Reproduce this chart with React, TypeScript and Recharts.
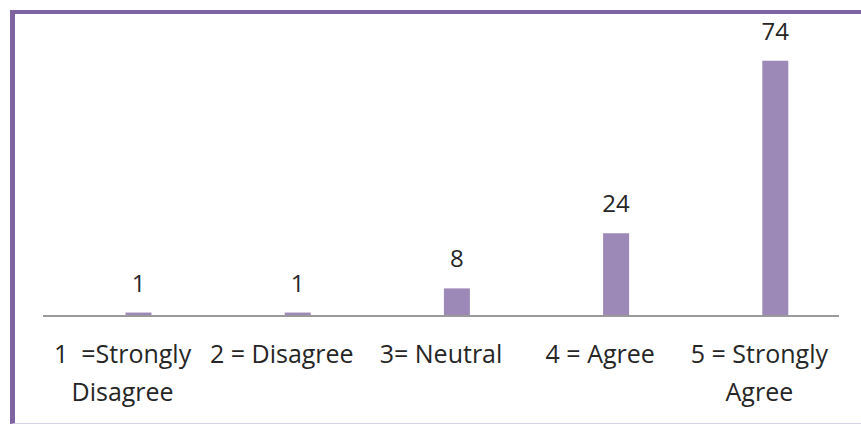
import { Bar, BarChart, LabelList, XAxis, YAxis } from "recharts";

const categories = [
  "1  =Strongly\nDisagree",
  "2 = Disagree",
  "3= Neutral",
  "4 = Agree",
  "5 = Strongly\nAgree",
];
const counts = [1, 1, 8, 24, 74];

const data = categories.map((label, i) => ({ label, count: counts[i] }));

const FONT = "'Open Sans', sans-serif";
const TEXT = "#262626";

function CategoryTick(props: any) {
  const { x, y, payload } = props;
  const lines = String(payload.value).split("\n");
  return (
    <text
      x={x}
      y={y}
      textAnchor="middle"
      fill={TEXT}
      fontFamily={FONT}
      fontSize={25}
      style={{ whiteSpace: "pre" }}
    >
      {lines.map((line, i) => (
        <tspan key={i} x={x} dy={i === 0 ? 47 : 38}>
          {line}
        </tspan>
      ))}
    </text>
  );
}

export default function App() {
  return (
    <div
      style={{
        position: "absolute",
        left: 0,
        top: 0,
        width: 861,
        height: 424,
        overflow: "hidden",
        background: "#fff",
      }}
    >
      <div
        style={{
          position: "absolute",
          left: 10,
          top: 10,
          width: 880,
          height: 409,
          borderLeft: "5px solid #8064a2",
          borderTop: "4px solid #8064a2",
          borderBottom: "1px solid #d9d1e6",
        }}
      />
      <div style={{ position: "absolute", left: 0, top: 0 }}>
        <BarChart
          width={861}
          height={424}
          data={data}
          margin={{ top: 40, right: 22, left: 43, bottom: 107 }}
        >
          <XAxis
            xAxisId="ticks"
            dataKey="label"
            height={1}
            tickLine={false}
            tickSize={0}
            tickMargin={0}
            interval={0}
            axisLine={{ stroke: "#9a9a9a", strokeWidth: 2 }}
            tick={<CategoryTick />}
          />
          <XAxis
            xAxisId="bars"
            dataKey="label"
            height={0}
            hide
            padding={{ left: 15.5, right: -15.5 }}
          />
          <YAxis hide domain={[0, 80]} />
          <Bar
            xAxisId="bars"
            dataKey="count"
            fill="#9d89b8"
            barSize={26}
            isAnimationActive={false}
          >
            <LabelList
              dataKey="count"
              position="top"
              offset={21}
              fill={TEXT}
              fontFamily={FONT}
              fontSize={24}
            />
          </Bar>
        </BarChart>
      </div>
    </div>
  );
}
